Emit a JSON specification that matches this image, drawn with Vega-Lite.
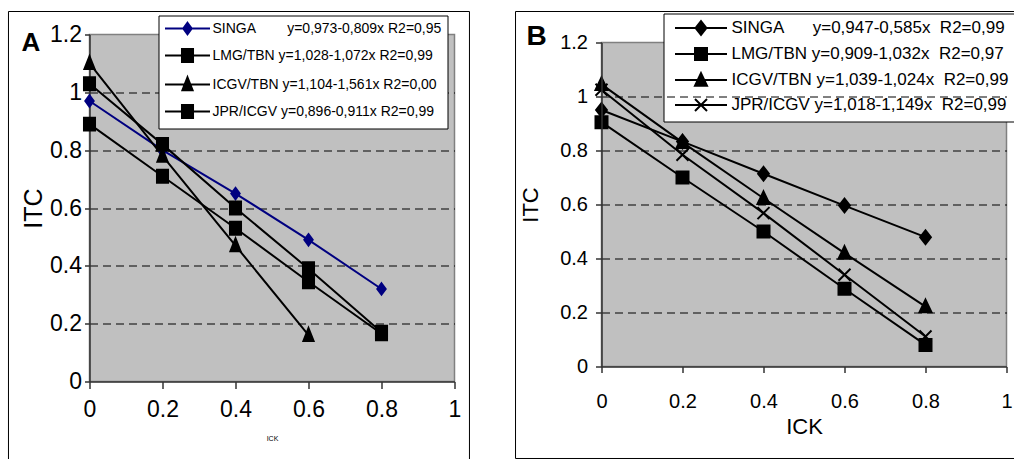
{
  "$schema": "https://vega.github.io/schema/vega-lite/v6.json",
  "background": "white",
  "padding": {"left": 6.5, "top": 9.5, "right": 0, "bottom": 0},
  "spacing": 43,
  "resolve": {"scale": {"color": "independent", "shape": "independent", "stroke": "independent"}, "legend": {"color": "independent", "shape": "independent", "stroke": "independent"}},
  "config": {
    "view": {"fill": "#C0C0C0", "stroke": "#808080", "strokeWidth": 1.5},
    "font": "Liberation Sans, Arial, sans-serif",
    "axis": {"labelColor": "black", "titleColor": "black", "titleFontWeight": "normal", "labelFlush": false, "labelOverlap": false, "domainColor": "#333333", "tickColor": "#333333", "domainWidth": 1.5, "tickWidth": 1.5}
  },
  "datasets": {
    "A": [
      {"series": "SINGA", "ick": 0, "itc": 0.97},
      {"series": "SINGA", "ick": 0.2, "itc": 0.80},
      {"series": "SINGA", "ick": 0.4, "itc": 0.65},
      {"series": "SINGA", "ick": 0.6, "itc": 0.49},
      {"series": "SINGA", "ick": 0.8, "itc": 0.32},
      {"series": "LMG/TBN", "ick": 0, "itc": 1.03},
      {"series": "LMG/TBN", "ick": 0.2, "itc": 0.82},
      {"series": "LMG/TBN", "ick": 0.4, "itc": 0.60},
      {"series": "LMG/TBN", "ick": 0.6, "itc": 0.39},
      {"series": "LMG/TBN", "ick": 0.8, "itc": 0.17},
      {"series": "ICGV/TBN", "ick": 0, "itc": 1.10},
      {"series": "ICGV/TBN", "ick": 0.2, "itc": 0.78},
      {"series": "ICGV/TBN", "ick": 0.4, "itc": 0.47},
      {"series": "ICGV/TBN", "ick": 0.6, "itc": 0.16},
      {"series": "JPR/ICGV", "ick": 0, "itc": 0.89},
      {"series": "JPR/ICGV", "ick": 0.2, "itc": 0.71},
      {"series": "JPR/ICGV", "ick": 0.4, "itc": 0.53},
      {"series": "JPR/ICGV", "ick": 0.6, "itc": 0.345},
      {"series": "JPR/ICGV", "ick": 0.8, "itc": 0.165}
    ],
    "B": [
      {"series": "SINGA", "ick": 0, "itc": 0.95},
      {"series": "SINGA", "ick": 0.2, "itc": 0.833},
      {"series": "SINGA", "ick": 0.4, "itc": 0.714},
      {"series": "SINGA", "ick": 0.6, "itc": 0.596},
      {"series": "SINGA", "ick": 0.8, "itc": 0.479},
      {"series": "LMG/TBN", "ick": 0, "itc": 0.905},
      {"series": "LMG/TBN", "ick": 0.2, "itc": 0.70},
      {"series": "LMG/TBN", "ick": 0.4, "itc": 0.50},
      {"series": "LMG/TBN", "ick": 0.6, "itc": 0.288},
      {"series": "LMG/TBN", "ick": 0.8, "itc": 0.08},
      {"series": "ICGV/TBN", "ick": 0, "itc": 1.045},
      {"series": "ICGV/TBN", "ick": 0.2, "itc": 0.83},
      {"series": "ICGV/TBN", "ick": 0.4, "itc": 0.623},
      {"series": "ICGV/TBN", "ick": 0.6, "itc": 0.42},
      {"series": "ICGV/TBN", "ick": 0.8, "itc": 0.222},
      {"series": "JPR/ICGV", "ick": 0, "itc": 1.025},
      {"series": "JPR/ICGV", "ick": 0.2, "itc": 0.784},
      {"series": "JPR/ICGV", "ick": 0.4, "itc": 0.568},
      {"series": "JPR/ICGV", "ick": 0.6, "itc": 0.34},
      {"series": "JPR/ICGV", "ick": 0.8, "itc": 0.111}
    ]
  },
  "hconcat": [
    {
      "width": 365,
      "height": 347,
      "title": {"text": "A", "anchor": "start", "frame": "group", "dx": -68, "dy": 14, "offset": -52, "baseline": "alphabetic", "font": "Liberation Sans, Arial, sans-serif", "fontSize": 26, "fontWeight": "bold", "color": "black"},
      "layer": [
        {
          "data": {"name": "A"},
          "mark": {"type": "line", "strokeWidth": 2},
          "encoding": {
            "x": {"field": "ick", "type": "quantitative", "scale": {"domain": [0, 1], "nice": false},
              "axis": {"values": [0, 0.2, 0.4, 0.6, 0.8, 1], "format": "~g", "title": "ICK", "titleFont": "Liberation Sans, Arial, sans-serif", "titleFontSize": 7, "titlePadding": 13, "labelFont": "Liberation Sans, Arial, sans-serif", "labelFontSize": 23, "labelPadding": 10, "tickSize": 7, "grid": false}},
            "y": {"field": "itc", "type": "quantitative", "scale": {"domain": [0, 1.2], "nice": false},
              "axis": {"values": [0, 0.2, 0.4, 0.6, 0.8, 1, 1.2], "format": "~g", "title": "ITC", "titleFont": "Liberation Sans, Arial, sans-serif", "titleFontSize": 25, "titlePadding": 3, "labelFont": "Liberation Sans, Arial, sans-serif", "labelFontSize": 23, "labelPadding": 3, "tickSize": 5,
                "grid": true, "gridColor": "black", "gridDash": [8, 5], "gridWidth": 1,
                "gridOpacity": {"condition": {"test": "datum.value < 0.1 || datum.value > 1.1", "value": 0}, "value": 1}}},
            "color": {"field": "series", "type": "nominal", "scale": {"domain": ["SINGA", "LMG/TBN", "ICGV/TBN", "JPR/ICGV"], "range": ["#000080", "#000000", "#000000", "#000000"]}}
          }
        },
        {
          "data": {"name": "A"},
          "transform": [{"filter": "datum.series === 'SINGA'"}],
          "mark": {"type": "point", "filled": true, "size": 144, "opacity": 1, "strokeWidth": 2, "shape": "M0,-0.95L0.7,0L0,0.95L-0.7,0Z", "fill": "#000080", "stroke": "#000080"},
          "encoding": {"x": {"field": "ick", "type": "quantitative"}, "y": {"field": "itc", "type": "quantitative"}}
        },
        {
          "data": {"name": "A"},
          "transform": [{"filter": "datum.series === 'LMG/TBN' || datum.series === 'JPR/ICGV'"}],
          "mark": {"type": "point", "filled": true, "size": 144, "opacity": 1, "strokeWidth": 2, "shape": "M-0.92,-1.08L0.92,-1.08L0.92,1.08L-0.92,1.08Z", "fill": "#000000", "stroke": "#000000"},
          "encoding": {"x": {"field": "ick", "type": "quantitative"}, "y": {"field": "itc", "type": "quantitative"}}
        },
        {
          "data": {"name": "A"},
          "transform": [{"filter": "datum.series === 'ICGV/TBN'"}],
          "mark": {"type": "point", "filled": true, "size": 144, "opacity": 1, "strokeWidth": 2, "shape": "M0,-1.2L0.85,0.95L-0.85,0.95Z", "fill": "#000000", "stroke": "#000000"},
          "encoding": {"x": {"field": "ick", "type": "quantitative"}, "y": {"field": "itc", "type": "quantitative"}}
        },
        {
          "data": {"name": "A"},
          "transform": [{"filter": "false"}],
          "mark": {"type": "point", "filled": true, "size": 144, "strokeWidth": 2, "opacity": 1, "fillOpacity": 1, "strokeOpacity": 1},
          "encoding": {
            "x": {"field": "ick", "type": "quantitative"},
            "y": {"field": "itc", "type": "quantitative"},
            "color": {"field": "series", "type": "nominal", "scale": {"domain": ["SINGA", "LMG/TBN", "ICGV/TBN", "JPR/ICGV"], "range": ["#000080", "#000000", "#000000", "#000000"]},
              "legend": {
                "orient": "none", "legendX": 69, "legendY": -19, "title": null,
                "fillColor": "white", "strokeColor": "black", "padding": 6,
                "labelFont": "Liberation Sans, Arial, sans-serif", "labelFontSize": 14, "labelColor": "black", "labelLimit": 0,
                "symbolSize": 144, "symbolStrokeWidth": 2, "symbolOpacity": 1, "symbolOffset": 16, "labelOffset": 18, "rowPadding": 6,
                "labelExpr": "datum.label === 'SINGA' ? 'SINGA\u00a0\u00a0\u00a0\u00a0\u00a0\u00a0\u00a0 y=0,973-0,809x R2=0,95' : datum.label === 'LMG/TBN' ? 'LMG/TBN y=1,028-1,072x R2=0,99' : datum.label === 'ICGV/TBN' ? 'ICGV/TBN y=1,104-1,561x R2=0,00' : 'JPR/ICGV y=0,896-0,911x R2=0,99'"
              }},
            "stroke": {"field": "series", "type": "nominal", "scale": {"domain": ["SINGA", "LMG/TBN", "ICGV/TBN", "JPR/ICGV"], "range": ["#000080", "#000000", "#000000", "#000000"]}},
            "shape": {"field": "series", "type": "nominal", "scale": {"domain": ["SINGA", "LMG/TBN", "ICGV/TBN", "JPR/ICGV"], "range": ["M-3.75,0L3.75,0M0,-0.95L0.7,0L0,0.95L-0.7,0Z", "M-3.75,0L3.75,0M-0.92,-1.08L0.92,-1.08L0.92,1.08L-0.92,1.08Z", "M-3.75,0L3.75,0M0,-1.2L0.85,0.95L-0.85,0.95Z", "M-3.75,0L3.75,0M-0.92,-1.08L0.92,-1.08L0.92,1.08L-0.92,1.08Z"]}}
          }
        },
        {
          "data": {"values": [{}]},
          "mark": {"type": "rule", "clip": false, "color": "black", "strokeWidth": 1},
          "encoding": {"x": {"datum": -0.222}, "x2": {"datum": 1.041}, "y": {"datum": 1.2795}}
        },
        {
          "data": {"values": [{}]},
          "mark": {"type": "rule", "clip": false, "color": "black", "strokeWidth": 1},
          "encoding": {"x": {"datum": -0.222}, "y": {"datum": -0.2715}, "y2": {"datum": 1.2795}}
        },
        {
          "data": {"values": [{}]},
          "mark": {"type": "rule", "clip": false, "color": "black", "strokeWidth": 1},
          "encoding": {"x": {"datum": 1.041}, "y": {"datum": -0.2715}, "y2": {"datum": 1.2795}}
        }
      ]
    },
    {
      "width": 405,
      "height": 332,
      "view": {"fill": null, "stroke": null},
      "title": {"text": "B", "anchor": "start", "frame": "group", "dx": -75, "dy": 4, "offset": -58, "baseline": "alphabetic", "font": "Liberation Sans, Arial, sans-serif", "fontSize": 28, "fontWeight": "bold", "color": "black"},
      "layer": [
        {
          "data": {"values": [{}]},
          "mark": {"type": "rect", "fill": "#C0C0C0", "stroke": "#808080", "strokeWidth": 1.5},
          "encoding": {
            "x": {"datum": 0, "type": "quantitative", "scale": {"domain": [0, 1], "nice": false},
              "axis": {"values": [0, 0.2, 0.4, 0.6, 0.8, 1], "format": "~g", "title": "ICK", "zindex": 1, "titleFont": "Liberation Sans, Arial, sans-serif", "titleFontSize": 22, "titlePadding": 5, "labelFont": "Liberation Sans, Arial, sans-serif", "labelFontSize": 20, "labelPadding": 19, "tickSize": 6, "grid": false}},
            "x2": {"datum": 1},
            "y": {"datum": 0, "type": "quantitative", "scale": {"domain": [0, 1.2], "nice": false, "range": [332, 8]},
              "axis": {"values": [0, 0.2, 0.4, 0.6, 0.8, 1, 1.2], "format": "~g", "title": "ITC", "zindex": 1, "titleFont": "Liberation Sans, Arial, sans-serif", "titleFontSize": 22, "titlePadding": 17, "labelFont": "Liberation Sans, Arial, sans-serif", "labelFontSize": 20, "labelPadding": 8, "tickSize": 6,
                "grid": true, "gridColor": "black", "gridDash": [8, 5], "gridWidth": 1,
                "gridOpacity": {"condition": {"test": "datum.value < 0.1 || datum.value > 1.1", "value": 0}, "value": 1}}},
            "y2": {"datum": 1.2}
          }
        },
        {
          "data": {"name": "B"},
          "mark": {"type": "line", "strokeWidth": 2, "color": "black"},
          "encoding": {
            "x": {"field": "ick", "type": "quantitative"},
            "y": {"field": "itc", "type": "quantitative"},
            "detail": {"field": "series", "type": "nominal"}
          }
        },
        {
          "data": {"name": "B"},
          "transform": [{"filter": "datum.series === 'SINGA'"}],
          "mark": {"type": "point", "filled": true, "size": 144, "opacity": 1, "strokeWidth": 2, "shape": "M0,-1.15L0.9,0L0,1.15L-0.9,0Z", "fill": "#000000", "stroke": "#000000"},
          "encoding": {"x": {"field": "ick", "type": "quantitative"}, "y": {"field": "itc", "type": "quantitative"}}
        },
        {
          "data": {"name": "B"},
          "transform": [{"filter": "datum.series === 'LMG/TBN'"}],
          "mark": {"type": "point", "filled": true, "size": 144, "opacity": 1, "strokeWidth": 2, "shape": "M-1,-1L1,-1L1,1L-1,1Z", "fill": "#000000", "stroke": "#000000"},
          "encoding": {"x": {"field": "ick", "type": "quantitative"}, "y": {"field": "itc", "type": "quantitative"}}
        },
        {
          "data": {"name": "B"},
          "transform": [{"filter": "datum.series === 'ICGV/TBN'"}],
          "mark": {"type": "point", "filled": true, "size": 144, "opacity": 1, "strokeWidth": 2, "shape": "M0,-1.15L1,0.95L-1,0.95Z", "fill": "#000000", "stroke": "#000000"},
          "encoding": {"x": {"field": "ick", "type": "quantitative"}, "y": {"field": "itc", "type": "quantitative"}}
        },
        {
          "data": {"name": "B"},
          "transform": [{"filter": "datum.series === 'JPR/ICGV'"}],
          "mark": {"type": "point", "filled": false, "size": 144, "opacity": 1, "strokeWidth": 2, "shape": "M-1,-1L1,1M-1,1L1,-1", "stroke": "#000000"},
          "encoding": {"x": {"field": "ick", "type": "quantitative"}, "y": {"field": "itc", "type": "quantitative"}}
        },
        {
          "data": {"name": "B"},
          "transform": [{"filter": "false"}],
          "mark": {"type": "point", "filled": true, "size": 144, "strokeWidth": 2, "stroke": "#000000", "opacity": 1, "fillOpacity": 1, "strokeOpacity": 1},
          "encoding": {
            "x": {"field": "ick", "type": "quantitative"},
            "y": {"field": "itc", "type": "quantitative"},
            "color": {"field": "series", "type": "nominal", "scale": {"domain": ["SINGA", "LMG/TBN", "ICGV/TBN", "JPR/ICGV"], "range": ["#000000", "#000000", "#000000", "#000000"]},
              "legend": {
                "orient": "none", "legendX": 62, "legendY": -21, "title": null,
                "fillColor": "white", "strokeColor": "black", "padding": 6,
                "labelFont": "Liberation Sans, Arial, sans-serif", "labelFontSize": 17, "labelColor": "black", "labelLimit": 0,
                "symbolSize": 144, "symbolStrokeWidth": 2, "symbolStrokeColor": "#000000", "symbolOpacity": 1, "symbolOffset": 23, "labelOffset": 22, "rowPadding": 4,
                "labelExpr": "datum.label === 'SINGA' ? 'SINGA\u00a0\u00a0\u00a0\u00a0\u00a0 y=0,947-0,585x\u00a0 R2=0,99' : datum.label === 'LMG/TBN' ? 'LMG/TBN y=0,909-1,032x\u00a0 R2=0,97' : datum.label === 'ICGV/TBN' ? 'ICGV/TBN y=1,039-1,024x\u00a0 R2=0,99' : 'JPR/ICGV y=1,018-1,149x\u00a0 R2=0,99'"
              }},
            "shape": {"field": "series", "type": "nominal", "scale": {"domain": ["SINGA", "LMG/TBN", "ICGV/TBN", "JPR/ICGV"], "range": ["M-4.33,0L4.33,0M0,-1.15L0.9,0L0,1.15L-0.9,0Z", "M-4.33,0L4.33,0M-1,-1L1,-1L1,1L-1,1Z", "M-4.33,0L4.33,0M0,-1.15L1,0.95L-1,0.95Z", "M-4.33,0L4.33,0M-1,-1L1,1M-1,1L1,-1"]}}
          }
        },
        {
          "data": {"values": [{}]},
          "mark": {"type": "rule", "clip": false, "color": "black", "strokeWidth": 1},
          "encoding": {"x": {"datum": -0.2123}, "x2": {"datum": 1.0259}, "y": {"datum": 1.3148}}
        },
        {
          "data": {"values": [{}]},
          "mark": {"type": "rule", "clip": false, "color": "black", "strokeWidth": 1},
          "encoding": {"x": {"datum": -0.2123}, "x2": {"datum": 1.0259}, "y": {"datum": -0.3407}}
        },
        {
          "data": {"values": [{}]},
          "mark": {"type": "rule", "clip": false, "color": "black", "strokeWidth": 1},
          "encoding": {"x": {"datum": -0.2123}, "y": {"datum": -0.3407}, "y2": {"datum": 1.3148}}
        }
      ]
    }
  ]
}
